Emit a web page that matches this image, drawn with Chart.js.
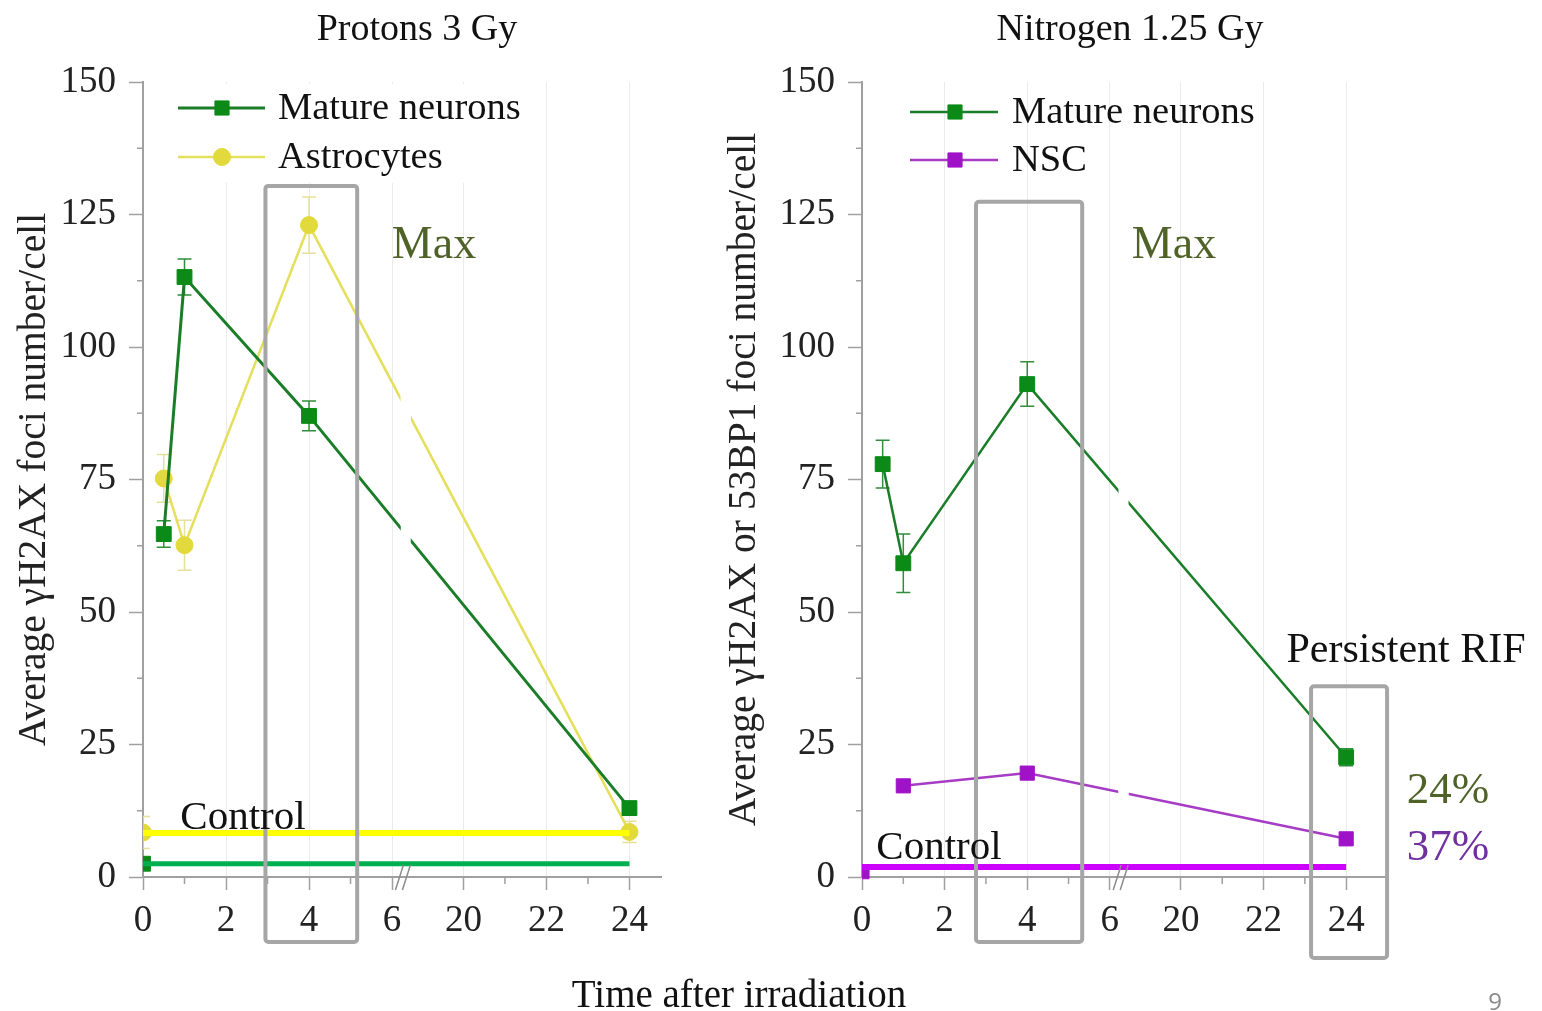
<!DOCTYPE html>
<html>
<head>
<meta charset="utf-8">
<script src="https://cdn.jsdelivr.net/npm/chart.js@4.4.1/dist/chart.umd.min.js"></script>
<style>
  body { margin: 0; background: #fff; }
  #page { position: relative; width: 1542px; height: 1011px; overflow: hidden; font-family: 'Liberation Serif', 'Times New Roman', serif; }
  canvas { position: absolute; top: 0; }
  .t { position: absolute; white-space: nowrap; transform: translate(-50%, -50%); line-height: 1; color: #111; }
</style>
</head>
<body>
<div id="page">
  <canvas id="protons" width="700" height="1011" style="left:0"></canvas>
  <canvas id="nitrogen" width="842" height="1011" style="left:700px"></canvas>

  <div class="t" style="left:417px;top:27px;font-size:38px">Protons 3 Gy</div>
  <div class="t" style="left:1130px;top:27px;font-size:38px">Nitrogen 1.25 Gy</div>
  <div class="t" style="left:434px;top:243px;font-size:46px;color:#4f6228">Max</div>
  <div class="t" style="left:1174px;top:243px;font-size:46px;color:#4f6228">Max</div>
  <div class="t" style="left:243px;top:815px;font-size:41px">Control</div>
  <div class="t" style="left:939px;top:845px;font-size:41px">Control</div>
  <div class="t" style="left:1406px;top:648px;font-size:42px">Persistent RIF</div>
  <div class="t" style="left:1448px;top:788px;font-size:45px;color:#4f6228">24%</div>
  <div class="t" style="left:1448px;top:845px;font-size:45px;color:#7030a0">37%</div>
  <div class="t" style="left:739px;top:993px;font-size:39px">Time after irradiation</div>
  <div class="t" style="left:1495px;top:1001px;font-size:24px;color:#8a8a8a;font-family:'Open Sans',sans-serif">9</div>
</div>

<script>
// broken time axis: 0..6 h, then 20..24 h
const GAP = 1.72;
function axisPos(h) { return h <= 6 ? h : h - 20 + 6 + GAP; }

const majorHours = [0, 2, 4, 6, 20, 22, 24];
const tickLabels = ['0', '2', '4', '6', '20', '22', '24'];
const minorHours = [1, 3, 5, 21, 23];

// Protons 3 Gy
const protonHours = [0, 0.5, 1, 4, 24];
const protonNeurons = [2.5, 64.7, 113.2, 87.0, 13.0];
const protonNeuronsErr = [0.8, 2.5, 3.4, 2.8, 1.2];
const protonAstro = [8.4, 75.2, 62.6, 123.0, 8.5];
const protonAstroErr = [3.0, 4.5, 4.7, 5.3, 2.0];
const protonCtrlNeurons = 2.5;
const protonCtrlAstro = 8.3;

// Nitrogen 1.25 Gy
const nitroNeuronHours = [0.5, 1, 4, 24];
const nitroNeurons = [77.9, 59.2, 93.0, 22.6];
const nitroNeuronsErr = [4.5, 5.5, 4.2, 1.6];
const nscHours = [0, 1, 4, 24];
const nitroNsc = [1.0, 17.2, 19.6, 7.2];
const nitroNscErr = [0.5, 0.8, 0.9, 0.8];
const nitroCtrlNsc = 1.9;

const SERIF = "'Liberation Serif', 'Times New Roman', serif";
const AXIS = '#a0a0a0';

function pts(hours, vals) {
  return hours.map((h, i) => ({ x: axisPos(h), y: vals[i] }));
}

function series(label, hours, vals, errs, c) {
  return {
    label: label,
    data: pts(hours, vals),
    errors: errs,
    errColor: c.err,
    breakGap: true,
    borderColor: c.line,
    borderWidth: c.width,
    backgroundColor: c.fill,
    pointBackgroundColor: c.fill,
    pointBorderColor: c.fill,
    pointStyle: c.style,
    pointRadius: c.radius,
    pointBorderWidth: 1,
    tension: 0,
    order: 1,
    clip: { left: 0, top: 30, right: 30, bottom: 30 },
    segment: c.detachFirst ? {
      borderColor: ctx => ctx.p0DataIndex === 0 ? 'rgba(0,0,0,0)' : c.line
    } : undefined
  };
}

function control(value, color, width) {
  return {
    data: pts([0, 24], [value, value]),
    borderColor: color,
    borderWidth: width,
    pointRadius: 0,
    order: 0,
    clip: { left: 0, top: 30, right: 30, bottom: 30 }
  };
}

const GREEN = { line: '#1a7d28', fill: '#0b8a17', err: '#2f8f3a', width: 3, style: 'rect', radius: 10.5 };
const GREEN_R = { line: '#1a7d28', fill: '#0b8a17', err: '#2f8f3a', width: 2.5, style: 'rect', radius: 10.5 };
const YELLOW = { line: '#e4df5c', fill: '#e2da3c', err: '#e6e09a', width: 2.5, style: 'circle', radius: 8.5 };
const PURPLE = { line: '#a63cc6', fill: '#a012c8', err: '#b45ad0', width: 2.5, style: 'rect', radius: 10 };

const decor = {
  id: 'decor',
  beforeDatasetsDraw(chart, args, o) {
    const ctx = chart.ctx, a = chart.chartArea;
    if (o.legendBg) {
      ctx.save();
      ctx.fillStyle = '#fff';
      ctx.fillRect(o.legendBg[0], o.legendBg[1], o.legendBg[2], o.legendBg[3]);
      ctx.restore();
    }
    // error bars
    const ys = chart.scales.y;
    ctx.save();
    ctx.beginPath();
    ctx.rect(a.left, a.top - 30, a.right - a.left + 30, a.bottom - a.top + 60);
    ctx.clip();
    chart.data.datasets.forEach((ds, di) => {
      if (!ds.errors) return;
      const meta = chart.getDatasetMeta(di);
      ctx.strokeStyle = ds.errColor;
      ctx.lineWidth = 1.5;
      meta.data.forEach((pt, i) => {
        const v = ds.data[i].y, e = ds.errors[i];
        const y0 = ys.getPixelForValue(v + e), y1 = ys.getPixelForValue(v - e);
        ctx.beginPath();
        ctx.moveTo(pt.x, y0); ctx.lineTo(pt.x, y1);
        ctx.moveTo(pt.x - 7, y0); ctx.lineTo(pt.x + 7, y0);
        ctx.moveTo(pt.x - 7, y1); ctx.lineTo(pt.x + 7, y1);
        ctx.stroke();
      });
    });
    ctx.restore();
  },
  afterDatasetDraw(chart, args) {
    const ds = chart.data.datasets[args.index];
    if (!ds.breakGap) return;
    const a = chart.chartArea;
    const px = chart.scales.x.getPixelForValue(6.33);
    const ctx = chart.ctx;
    ctx.save();
    ctx.fillStyle = '#fff';
    ctx.fillRect(px - 5, a.top, 10, a.bottom - a.top - 3);
    ctx.restore();
  },
  afterDraw(chart, args, o) {
    const ctx = chart.ctx, a = chart.chartArea;
    const xs = chart.scales.x, ys = chart.scales.y;
    ctx.save();
    // minor ticks
    ctx.strokeStyle = AXIS;
    ctx.lineWidth = 1.5;
    ctx.beginPath();
    minorHours.forEach(h => {
      const px = xs.getPixelForValue(axisPos(h));
      ctx.moveTo(px, a.bottom); ctx.lineTo(px, a.bottom + 7);
    });
    for (let v = 12.5; v < 150; v += 25) {
      const py = ys.getPixelForValue(v);
      ctx.moveTo(a.left - 6, py); ctx.lineTo(a.left, py);
    }
    ctx.stroke();
    // axis break marks
    const bx = xs.getPixelForValue(6.25);
    ctx.strokeStyle = '#8c8c8c';
    ctx.beginPath();
    ctx.moveTo(bx - 7, a.bottom + 13); ctx.lineTo(bx + 1, a.bottom - 12);
    ctx.moveTo(bx, a.bottom + 13); ctx.lineTo(bx + 8, a.bottom - 12);
    ctx.stroke();
    // boxes
    ctx.strokeStyle = '#a6a6a6';
    ctx.lineWidth = 4;
    (o.boxes || []).forEach(b => {
      const x0 = xs.getPixelForValue(b.x0), x1 = xs.getPixelForValue(b.x1);
      const y0 = ys.getPixelForValue(b.yTop), y1 = a.bottom + b.below;
      ctx.beginPath();
      ctx.roundRect(x0, y0, x1 - x0, y1 - y0, 3);
      ctx.stroke();
    });
    // legend
    (o.legend || []).forEach(it => {
      const y = a.top + it.dy;
      ctx.strokeStyle = it.line;
      ctx.lineWidth = it.width;
      ctx.beginPath();
      ctx.moveTo(a.left + it.x0, y); ctx.lineTo(a.left + it.x1, y);
      ctx.stroke();
      ctx.fillStyle = it.fill;
      ctx.strokeStyle = it.fill;
      ctx.lineWidth = 1;
      Chart.helpers.drawPoint(ctx, { pointStyle: it.style, radius: it.radius, rotation: 0, borderWidth: 1 },
        a.left + it.xm, y);
      ctx.fillStyle = '#111';
      ctx.font = '38.5px ' + SERIF;
      ctx.textBaseline = 'middle';
      ctx.textAlign = 'left';
      ctx.fillText(it.text, a.left + it.xt, y + 1);
    });
    ctx.restore();
  }
};

function makeChart(id, datasets, cfg) {
  const font = { family: SERIF, size: 37 };
  new Chart(document.getElementById(id), {
    type: 'line',
    data: { datasets: datasets },
    plugins: [decor],
    options: {
      responsive: false,
      animation: false,
      layout: { padding: { top: 82, right: cfg.padRight, bottom: 0, left: 0 } },
      plugins: {
        legend: { display: false },
        tooltip: { enabled: false },
        decor: { legend: cfg.legend, boxes: cfg.boxes, legendBg: cfg.legendBg }
      },
      scales: {
        x: {
          type: 'linear',
          min: 0,
          max: cfg.xMax,
          afterBuildTicks: s => { s.ticks = majorHours.map(h => ({ value: axisPos(h) })); },
          afterFit: s => { s.height = 134; },
          ticks: {
            autoSkip: false,
            maxRotation: 0,
            padding: 9,
            color: '#222',
            font: font,
            callback: (v, i) => tickLabels[i]
          },
          grid: { color: '#ebebeb', lineWidth: 1, tickLength: 13, tickColor: AXIS, tickWidth: 1.5 },
          border: { color: AXIS, width: 2 }
        },
        y: {
          min: 0,
          max: 150,
          afterFit: s => { s.width = cfg.yWidth; },
          ticks: { stepSize: 25, padding: 13, color: '#222', font: font },
          grid: { drawOnChartArea: false, tickLength: 14, tickColor: AXIS, tickWidth: 1.5 },
          border: { color: AXIS, width: 2 },
          title: {
            display: true,
            text: cfg.yTitle,
            color: '#222',
            font: { family: SERIF, size: 39.5 },
            padding: { top: cfg.titlePad, bottom: 0 }
          }
        }
      }
    }
  });
}

makeChart('protons', [
  control(protonCtrlAstro, '#ffff00', 6),
  control(protonCtrlNeurons, '#00b050', 5),
  series('Mature neurons', protonHours, protonNeurons, protonNeuronsErr, Object.assign({ detachFirst: true }, GREEN)),
  series('Astrocytes', protonHours, protonAstro, protonAstroErr, Object.assign({ detachFirst: true }, YELLOW))
], {
  padRight: 39,
  yWidth: 143,
  xMax: 12.48,
  titlePad: 11,
  yTitle: 'Average \u03b3H2AX foci number/cell',
  legendBg: [150, 84, 382, 99],
  legend: [
    { text: 'Mature neurons', dy: 26, x0: 35, x1: 122, xm: 79, xt: 135, line: GREEN.line, width: 3, fill: GREEN.fill, style: 'rect', radius: 10 },
    { text: 'Astrocytes', dy: 75, x0: 35, x1: 122, xm: 79, xt: 135, line: YELLOW.line, width: 2.5, fill: YELLOW.fill, style: 'circle', radius: 8.5 }
  ],
  boxes: [{ x0: 2.95, x1: 5.16, yTop: 130.4, below: 65 }]
});

makeChart('nitrogen', [
  control(nitroCtrlNsc, '#cc00ff', 6),
  series('Mature neurons', nitroNeuronHours, nitroNeurons, nitroNeuronsErr, GREEN_R),
  series('NSC', nscHours, nitroNsc, nitroNscErr, Object.assign({ detachFirst: true }, PURPLE))
], {
  padRight: 157,
  yWidth: 162,
  xMax: 12.66,
  titlePad: 21,
  yTitle: 'Average \u03b3H2AX or 53BP1 foci number/cell',
  legend: [
    { text: 'Mature neurons', dy: 30, x0: 48, x1: 136, xm: 93, xt: 150, line: GREEN.line, width: 2.5, fill: GREEN.fill, style: 'rect', radius: 10 },
    { text: 'NSC', dy: 78, x0: 48, x1: 136, xm: 93, xt: 150, line: PURPLE.line, width: 2.5, fill: PURPLE.fill, style: 'rect', radius: 10 }
  ],
  boxes: [
    { x0: 2.76, x1: 5.33, yTop: 127.4, below: 65 },
    { x0: 10.87, x1: 12.71, yTop: 36.0, below: 81 }
  ]
});
</script>
</body>
</html>
